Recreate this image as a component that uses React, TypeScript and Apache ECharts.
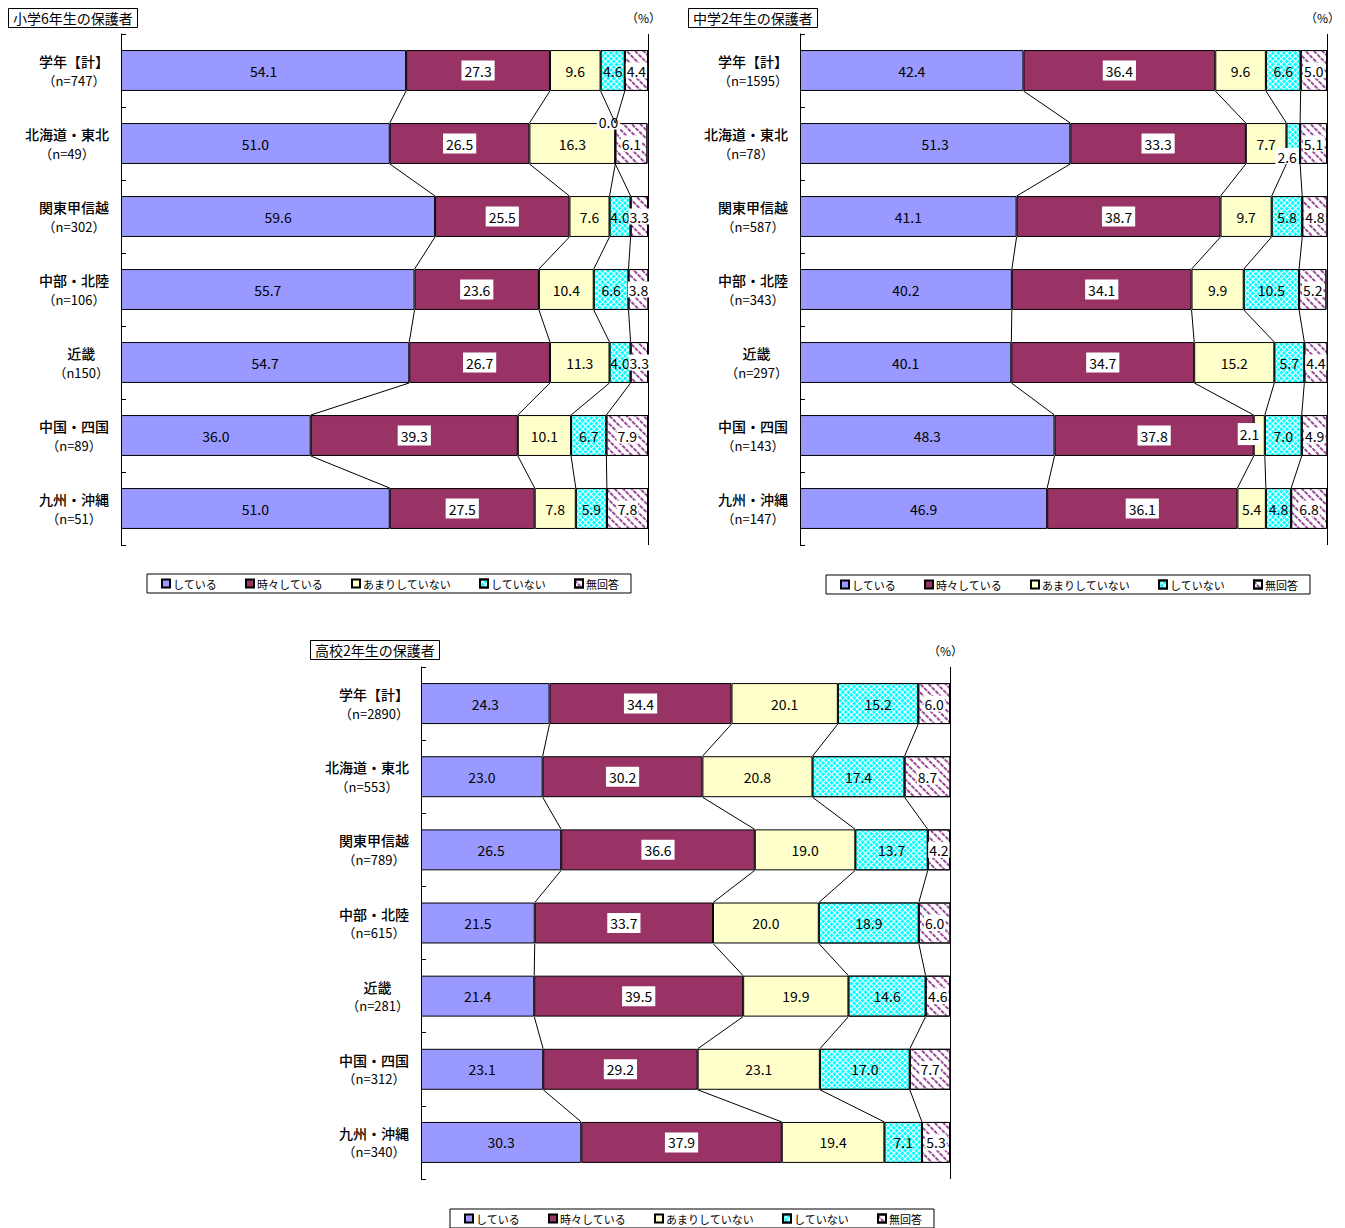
import React, { useEffect, useRef } from 'react';
import * as echarts from 'echarts';

const seriesNames = ['している', '時々している', 'あまりしていない', 'していない', '無回答'];
const regionNames = ['学年【計】', '北海道・東北', '関東甲信越', '中部・北陸', '近畿', '中国・四国', '九州・沖縄'];
const titles = ['小学6年生の保護者', '中学2年生の保護者', '高校2年生の保護者'];

const nLabels1 = ['（n=747）', '（n=49）', '（n=302）', '（n=106）', '（n150）', '（n=89）', '（n=51）'];
const nLabels2 = ['（n=1595）', '（n=78）', '（n=587）', '（n=343）', '（n=297）', '（n=143）', '（n=147）'];
const nLabels3 = ['（n=2890）', '（n=553）', '（n=789）', '（n=615）', '（n=281）', '（n=312）', '（n=340）'];

// 小学6年生の保護者
const e_doing = [54.1, 51.0, 59.6, 55.7, 54.7, 36.0, 51.0];
const e_sometimes = [27.3, 26.5, 25.5, 23.6, 26.7, 39.3, 27.5];
const e_rarely = [9.6, 16.3, 7.6, 10.4, 11.3, 10.1, 7.8];
const e_not = [4.6, 0.0, 4.0, 6.6, 4.0, 6.7, 5.9];
const e_na = [4.4, 6.1, 3.3, 3.8, 3.3, 7.9, 7.8];

// 中学2年生の保護者
const m_doing = [42.4, 51.3, 41.1, 40.2, 40.1, 48.3, 46.9];
const m_sometimes = [36.4, 33.3, 38.7, 34.1, 34.7, 37.8, 36.1];
const m_rarely = [9.6, 7.7, 9.7, 9.9, 15.2, 2.1, 5.4];
const m_not = [6.6, 2.6, 5.8, 10.5, 5.7, 7.0, 4.8];
const m_na = [5.0, 5.1, 4.8, 5.2, 4.4, 4.9, 6.8];

// 高校2年生の保護者
const h_doing = [24.3, 23.0, 26.5, 21.5, 21.4, 23.1, 30.3];
const h_sometimes = [34.4, 30.2, 36.6, 33.7, 39.5, 29.2, 37.9];
const h_rarely = [20.1, 20.8, 19.0, 20.0, 19.9, 23.1, 19.4];
const h_not = [15.2, 17.4, 13.7, 18.9, 14.6, 17.0, 7.1];
const h_na = [6.0, 8.7, 4.2, 6.0, 4.6, 7.7, 5.3];

const chartValues = [
  [e_doing, e_sometimes, e_rarely, e_not, e_na],
  [m_doing, m_sometimes, m_rarely, m_not, m_na],
  [h_doing, h_sometimes, h_rarely, h_not, h_na],
];
const chartN = [nLabels1, nLabels2, nLabels3];

const layouts = [
  { left: 121, top: 34, width: 527, height: 511, tLeft: 8, tTop: 8, pLeft: 626, pTop: 11, lLeft: 147, lTop: 574 },
  { left: 800, top: 34, width: 527, height: 511, tLeft: 688, tTop: 8, pLeft: 1305, pTop: 11, lLeft: 826, lTop: 575 },
  { left: 421, top: 667, width: 529, height: 512, tLeft: 310, tTop: 640, pLeft: 928, pTop: 644, lLeft: 450, lTop: 1209 },
];

// special label placements: [chart, series, row] -> label override
const labelOverrides: Record<string, any> = {
  '0-3-1': { position: [-18, -9], align: 'left', verticalAlign: 'top', backgroundColor: '#fff', padding: [1, 2] },
  '1-3-1': { position: [-11, 25], align: 'left', verticalAlign: 'top', backgroundColor: '#fff', padding: [2, 2] },
  '1-2-5': { position: [-16, 8], align: 'left', verticalAlign: 'top', backgroundColor: '#fff', padding: [4, 2] },
};

const FONT = "'Liberation Sans Narrow', 'Noto Sans CJK JP', sans-serif";
const JFONT = "'Noto Sans CJK JP', sans-serif";
const BAR_RATIO = 0.56;

const colors = ['#9999FF', '#993366', '#FFFFCC', '#FFFFFF', '#FFFFFF'];
const decals: any[] = [
  null,
  null,
  null,
  { symbol: 'rect', symbolSize: 1, color: '#00FFFF', dashArrayX: [3, 1], dashArrayY: [3, 1], rotation: Math.PI / 4 },
  { symbol: 'rect', symbolSize: 1, color: '#9A4C9A', dashArrayX: [[4, 1]], dashArrayY: [1.6, 3.4], rotation: Math.PI / 4 },
];

export default function App() {
  const ref = useRef<HTMLDivElement>(null);
  useEffect(() => {
    if (!ref.current) return;
    const chart = echarts.init(ref.current, null, { renderer: 'svg' });

    const grids: any[] = [];
    const xAxes: any[] = [];
    const yAxes: any[] = [];
    const series: any[] = [];
    const titleList: any[] = [];
    const legends: any[] = [];

    layouts.forEach((L, c) => {
      grids.push({ left: L.left, top: L.top, width: L.width, height: L.height });
      xAxes.push({
        gridIndex: c, type: 'value', min: 0, max: 100, interval: 100,
        axisLine: { show: false }, axisTick: { show: false }, axisLabel: { show: false },
        splitLine: { show: true, lineStyle: { color: '#000', width: 1 } },
      });
      const cats = regionNames.map((r, i) => r + '\n' + chartN[c][i]);
      yAxes.push({
        gridIndex: c, type: 'category', inverse: true, data: cats,
        axisLine: { show: true, lineStyle: { color: '#000', width: 1 } },
        axisTick: { show: true, inside: true, length: 5, lineStyle: { color: '#000' } },
        axisLabel: {
          margin: 12,
          formatter: (v: string) => {
            const [a, b] = v.split('\n');
            return `{a|${a}}\n{b|${b}}`;
          },
          rich: {
            a: { fontSize: 14, fontFamily: JFONT, color: '#000', align: 'center', lineHeight: 19, fontWeight: 500 },
            b: { fontSize: 13, fontFamily: JFONT, color: '#000', align: 'center', lineHeight: 19 },
          },
        },
      });

      const vals = chartValues[c];
      vals.forEach((arr, k) => {
        series.push({
          type: 'bar', name: seriesNames[k], stack: 'c' + c, xAxisIndex: c, yAxisIndex: c,
          barWidth: (BAR_RATIO * 100) + '%',
          itemStyle: { color: colors[k], borderColor: '#000', borderWidth: 1, decal: decals[k] || undefined },
          label: {
            show: true, position: 'inside', color: '#000', fontSize: 14, fontFamily: FONT,
            formatter: (p: any) => Number(p.value).toFixed(1),
            ...(k === 1 || k === 4 ? { backgroundColor: '#fff', padding: k === 1 ? [3, 3] : [1, 1] } : {}),
          },
          data: arr.map((v, i) => {
            const ov = labelOverrides[`${c}-${k}-${i}`];
            return ov ? { value: v, label: ov } : v;
          }),
        });
      });

      // cumulative boundaries per row
      const cum = regionNames.map((_, i) => {
        const out = [0];
        let s = 0;
        for (let k = 0; k < vals.length; k++) { s += vals[k][i]; out.push(s); }
        return out;
      });
      series.push({
        type: 'custom', xAxisIndex: c, yAxisIndex: c, silent: true, z: 5,
        data: regionNames.slice(0, -1).map((_, i) => [0, i]),
        renderItem: (params: any, api: any) => {
          const i = params.dataIndex;
          const half = api.size([0, 1])[1] * BAR_RATIO / 2;
          const children: any[] = [];
          for (let k = 1; k <= 4; k++) {
            const p1 = api.coord([cum[i][k], i]);
            const p2 = api.coord([cum[i + 1][k], i + 1]);
            children.push({
              type: 'line',
              shape: { x1: p1[0], y1: p1[1] + half, x2: p2[0], y2: p2[1] - half },
              style: { stroke: '#000', lineWidth: 1 },
            });
          }
          return { type: 'group', children };
        },
      });

      titleList.push({
        text: titles[c], left: L.tLeft, top: L.tTop, padding: [3, 5],
        borderColor: '#000', borderWidth: 1,
        textStyle: { fontSize: 14, fontWeight: 'normal', color: '#000', fontFamily: JFONT },
      });
      titleList.push({
        text: '（%）', left: L.pLeft, top: L.pTop, padding: 0,
        textStyle: { fontSize: 12, fontWeight: 'normal', color: '#000', fontFamily: JFONT },
      });
      legends.push({
        data: seriesNames, left: L.lLeft, top: L.lTop, orient: 'horizontal',
        borderColor: '#000', borderWidth: 1, padding: [4, 12, 4, 14],
        itemGap: 28, itemWidth: 8, itemHeight: 8, icon: 'rect',
        selectedMode: false,
        textStyle: { fontSize: 11, color: '#000', fontFamily: JFONT, padding: [0, 0, 0, -2] },
      });
    });

    chart.setOption({
      animation: false,
      backgroundColor: '#fff',
      title: titleList,
      legend: legends,
      grid: grids,
      xAxis: xAxes,
      yAxis: yAxes,
      series,
    });
    return () => chart.dispose();
  }, []);
  return <div ref={ref} style={{ position: 'absolute', left: 0, top: 0, width: 1345, height: 1228 }} />;
}
